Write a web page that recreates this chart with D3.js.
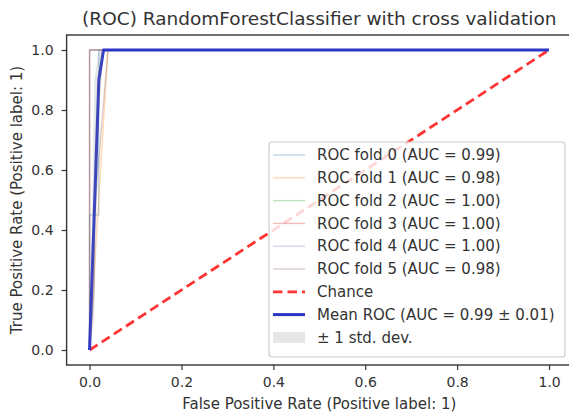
<!DOCTYPE html>
<html>
<head>
<meta charset="utf-8">
<script src="https://cdn.jsdelivr.net/npm/d3@7"></script>
<style>
  html, body { margin: 0; padding: 0; background: #fff; overflow: hidden; }
  svg { display: block; font-family: "DejaVu Sans", sans-serif; }
</style>
</head>
<body>
<svg id="chart" width="569" height="412"></svg>
<script>
// ROC curves from 6-fold cross validation of a RandomForestClassifier.
const foldNames = ["ROC fold 0", "ROC fold 1", "ROC fold 2", "ROC fold 3", "ROC fold 4", "ROC fold 5"];
const foldAUC = ["0.99", "0.98", "1.00", "1.00", "1.00", "0.98"];
const foldColors = ["#1f77b4", "#ff7f0e", "#2ca02c", "#d62728", "#9467bd", "#8c564b"];

// [fpr, tpr] points for each fold
const fold0 = [[0, 0], [0, 0.45], [0.02, 0.45], [0.02, 1], [1, 1]];
const fold1 = [[0, 0], [0.04, 1], [1, 1]];
const fold2 = [[0, 0], [0, 1], [1, 1]];
const fold3 = [[0, 0], [0, 1], [1, 1]];
const fold4 = [[0, 0], [0, 1], [1, 1]];
const fold5 = [[0, 0], [0.01, 0.2], [0.01, 0.45], [0.04, 1], [1, 1]];
const folds = [fold0, fold1, fold2, fold3, fold4, fold5];

// mean ROC and its ±1 std band on a common FPR grid
const meanFpr = [0, 0.0101, 0.0202, 0.0303, 1];
const meanTpr = [0, 0.45, 0.90, 1.0, 1.0];
const tprUpper = [0, 0.90, 1.0, 1.0, 1.0];
const tprLower = [0, 0.10, 0.78, 1.0, 1.0];
const meanAUC = "0.99", stdAUC = "0.01";

const chanceLine = [[0, 0], [1, 1]];
const tickValues = [0, 0.2, 0.4, 0.6, 0.8, 1.0];

const svg = d3.select("#chart");
const m = { left: 66.6, right: 572, top: 35, bottom: 365 };

const x = d3.scaleLinear().domain([-0.05, 1.05]).range([m.left, m.right]);
const y = d3.scaleLinear().domain([-0.05, 1.05]).range([m.bottom, m.top]);

const line = d3.line().x(d => x(d[0])).y(d => y(d[1]));

const plot = svg.append("g");
plot.append("clipPath").attr("id", "clip")
  .append("rect").attr("x", m.left).attr("y", m.top)
  .attr("width", m.right - m.left).attr("height", m.bottom - m.top);
const inner = plot.append("g").attr("clip-path", "url(#clip)");

// fold curves
folds.forEach((f, i) => {
  inner.append("path").attr("d", line(f))
    .attr("fill", "none").attr("stroke", foldColors[i])
    .attr("stroke-opacity", 0.3).attr("stroke-width", 1.4);
});

// chance diagonal
inner.append("path").attr("d", line(chanceLine))
  .attr("fill", "none").attr("stroke", "#ff0000").attr("stroke-opacity", 0.8)
  .attr("stroke-width", 2.8).attr("stroke-dasharray", "9.5,5");

// mean ROC
const meanPts = meanFpr.map((f, i) => [f, meanTpr[i]]);
inner.append("path").attr("d", line(meanPts))
  .attr("fill", "none").attr("stroke", "#2d35c8")
  .attr("stroke-width", 3).attr("stroke-linejoin", "round");

// std band
const area = d3.area()
  .x((d, i) => x(meanFpr[i]))
  .y0((d, i) => y(tprLower[i]))
  .y1((d, i) => y(tprUpper[i]));
inner.append("path").attr("d", area(meanFpr))
  .attr("fill", "#808080").attr("fill-opacity", 0.2);

// axes
const xAxis = d3.axisBottom(x).tickValues(tickValues).tickFormat(d3.format(".1f")).tickSize(5).tickPadding(7);
const yAxis = d3.axisLeft(y).tickValues(tickValues).tickFormat(d3.format(".1f")).tickSize(5).tickPadding(8);

const gx = svg.append("g").attr("transform", `translate(0,${m.bottom})`).call(xAxis);
const gy = svg.append("g").attr("transform", `translate(${m.left},0)`).call(yAxis);
[gx, gy].forEach(g => {
  g.select(".domain").remove();
  g.selectAll("line").attr("stroke", "#333").attr("stroke-width", 1.2);
  g.selectAll("text").attr("fill", "#333").style("font-size", "14px").style("font-family", "DejaVu Sans");
});

// spines
svg.append("rect").attr("x", m.left).attr("y", m.top)
  .attr("width", m.right - m.left).attr("height", m.bottom - m.top)
  .attr("fill", "none").attr("stroke", "#333").attr("stroke-width", 1.4);

// title and labels
svg.append("text").attr("x", (m.left + m.right) / 2).attr("y", 25)
  .attr("text-anchor", "middle").style("font-size", "18.5px").attr("fill", "#333")
  .text("(ROC) RandomForestClassifier with cross validation");
svg.append("text").attr("x", (m.left + m.right) / 2).attr("y", 408.5)
  .attr("text-anchor", "middle").style("font-size", "15px").attr("fill", "#333")
  .text("False Positive Rate (Positive label: 1)");
svg.append("text").attr("transform", `translate(22,${(m.top + m.bottom) / 2}) rotate(-90)`)
  .attr("text-anchor", "middle").style("font-size", "15px").attr("fill", "#333")
  .text("True Positive Rate (Positive label: 1)");

// legend
const leg = svg.append("g");
const lx = 269, ly = 142, lw = 296, lh = 215, rowH = 22.8, row0 = 155;
leg.append("rect").attr("x", lx).attr("y", ly).attr("width", lw).attr("height", lh)
  .attr("rx", 3).attr("fill", "#fff").attr("fill-opacity", 0.8)
  .attr("stroke", "#cccccc").attr("stroke-width", 1.2);

const entries = foldNames.map((n, i) => ({
  label: `${n} (AUC = ${foldAUC[i]})`, kind: "fold", color: foldColors[i]
}));
entries.push({ label: "Chance", kind: "chance" });
entries.push({ label: `Mean ROC (AUC = ${meanAUC} \u00b1 ${stdAUC})`, kind: "mean" });
entries.push({ label: "\u00b1 1 std. dev.", kind: "band" });

entries.forEach((e, i) => {
  const cy = row0 + i * rowH;
  if (e.kind === "fold") {
    leg.append("line").attr("x1", 273).attr("x2", 305).attr("y1", cy).attr("y2", cy)
      .attr("stroke", e.color).attr("stroke-opacity", 0.3).attr("stroke-width", 1.4);
  } else if (e.kind === "chance") {
    leg.append("line").attr("x1", 273).attr("x2", 305).attr("y1", cy).attr("y2", cy)
      .attr("stroke", "#ff0000").attr("stroke-opacity", 0.8).attr("stroke-width", 2.8)
      .attr("stroke-dasharray", "9.5,5");
  } else if (e.kind === "mean") {
    leg.append("line").attr("x1", 273).attr("x2", 305).attr("y1", cy).attr("y2", cy)
      .attr("stroke", "#2d35c8").attr("stroke-width", 3);
  } else {
    leg.append("rect").attr("x", 273).attr("y", cy - 5.5).attr("width", 32).attr("height", 11)
      .attr("fill", "#808080").attr("fill-opacity", 0.2);
  }
  leg.append("text").attr("x", 317).attr("y", cy).attr("dy", "0.35em")
    .style("font-size", "15px").attr("fill", "#333").text(e.label);
});
</script>
</body>
</html>
